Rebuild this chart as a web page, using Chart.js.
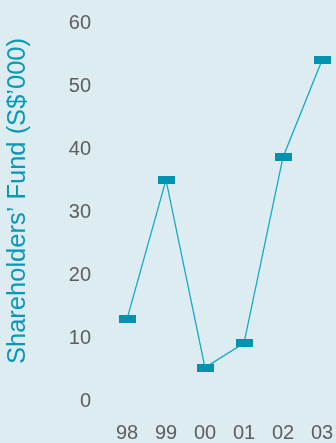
<!DOCTYPE html>
<html>
<head>
<meta charset="utf-8">
<script src="https://cdn.jsdelivr.net/npm/chart.js@4/dist/chart.umd.min.js"></script>
<style>
  html, body { margin: 0; padding: 0; background: #dcecf0; }
  #wrap { width: 336px; height: 443px; }
</style>
</head>
<body>
<div id="wrap"><canvas id="fund-chart"></canvas></div>
<script>
// data
const years = ['98', '99', '00', '01', '02', '03'];
const fund = [13, 35.1, 5.3, 9.2, 38.7, 54.1];
const yTicks = [0, 10, 20, 30, 40, 50, 60];
const yTitle = 'Shareholders’ Fund (S$’000)';

// flat bar marker
const marker = document.createElement('canvas');
marker.width = 17;
marker.height = 8;
const mctx = marker.getContext('2d');
mctx.fillStyle = '#0093b1';
mctx.fillRect(0, 0, 17, 8);

// axis title, placed by hand a bit above the centre like the original
const sideTitle = {
  id: 'sideTitle',
  afterDraw: function(chart) {
    const c = chart.ctx;
    c.save();
    c.translate(18, 201);
    c.rotate(-Math.PI / 2);
    c.font = '25.5px "Liberation Sans"';
    c.fillStyle = '#0a98b8';
    c.textAlign = 'center';
    c.textBaseline = 'middle';
    c.fillText(yTitle, 0, 0);
    c.restore();
  }
};

const ctx = document.getElementById('fund-chart');
const myChart = new Chart(ctx, {
  type: 'line',
  data: {
    labels: years,
    datasets: [{
      data: fund,
      borderColor: '#16a9c6',
      borderWidth: 1.3,
      tension: 0,
      pointStyle: marker,
      pointRadius: 8,
      pointHoverRadius: 8
    }]
  },
  plugins: [sideTitle],
  options: {
    responsive: true,
    maintainAspectRatio: false,
    animation: false,
    layout: { padding: { top: 23, right: 14, bottom: 0, left: 0 } },
    plugins: { legend: { display: false }, tooltip: { enabled: false } },
    scales: {
      x: {
        offset: false,
        grid: { display: false, drawTicks: false },
        border: { display: false },
        ticks: {
          color: '#5e5e5e',
          font: { family: 'Liberation Sans', size: 20 },
          padding: 20,
          maxRotation: 0,
          autoSkip: false
        },
        afterFit: function(s) {
          s.height = 42;
          s.paddingLeft = 0;
          s.paddingRight = 0;
        }
      },
      y: {
        min: 0,
        max: 60,
        grid: { display: false, drawTicks: false },
        border: { display: false },
        afterBuildTicks: function(s) { s.ticks = yTicks.map(v => ({ value: v })); },
        ticks: {
          color: '#5e5e5e',
          font: { family: 'Liberation Sans', size: 20 },
          padding: 36
        },
        afterFit: function(s) {
          s.width = 127;
          s.paddingTop = 0;
          s.paddingBottom = 0;
        }
      }
    }
  }
});
</script>
</body>
</html>
